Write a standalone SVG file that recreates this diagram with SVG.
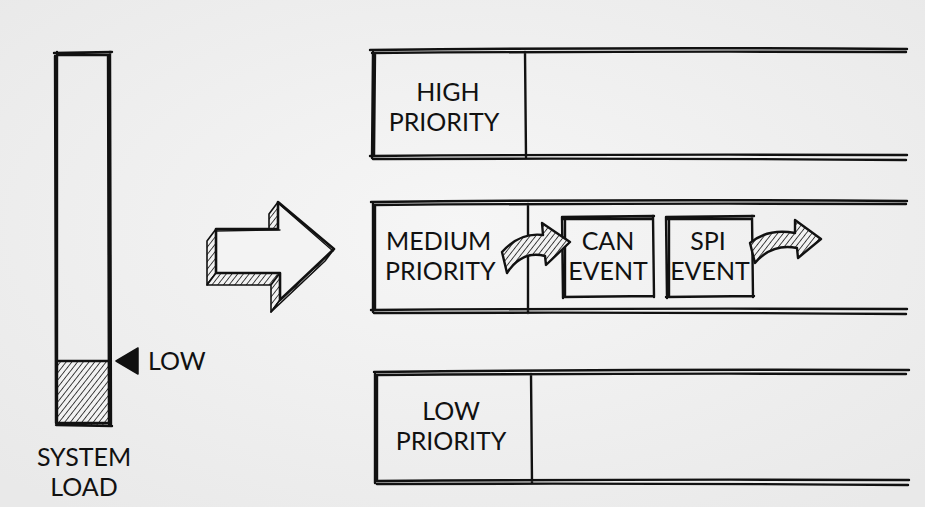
<svg xmlns="http://www.w3.org/2000/svg" width="925" height="507" viewBox="0 0 925 507">
<style>
.ink{fill:none;stroke:#111;stroke-width:2.4;stroke-linecap:round;stroke-linejoin:round}
.thin{fill:none;stroke:#111;stroke-width:1.3;stroke-linecap:round}
.lbl{font-family:Lato,"Noto Sans",sans-serif;font-size:25px;fill:#111;text-anchor:middle}
.lbl-l{font-family:Lato,"Noto Sans",sans-serif;font-size:25px;fill:#111}
.hatch{fill:url(#hatch);stroke:#111;stroke-width:2.4;stroke-linejoin:round}
.face{fill:url(#hatch);stroke:#111;stroke-width:1.6;stroke-linejoin:round}
.paper{fill:#f3f3f3}
</style>
<defs>
<radialGradient id="bg" cx="50%" cy="45%" r="70%">
<stop offset="0" stop-color="#f6f6f6"/>
<stop offset="1" stop-color="#e9e9e9"/>
</radialGradient>
<pattern id="hatch" patternUnits="userSpaceOnUse" width="4.5" height="5" patternTransform="rotate(38)">
<rect width="4.5" height="5" fill="#f2f2f2"/>
<line x1="0" y1="0" x2="0" y2="5" stroke="#1a1a1a" stroke-width="1.6"/>
</pattern>
</defs>
<rect width="925" height="507" fill="url(#bg)"/>

<g id="load-bar">
<rect x="57" y="361" width="53" height="64" fill="url(#hatch)"/>
<path class="ink" d="M57,52 L57,425 M55,56 L56,423 M110,52 L111,426 M108,56 L109,424 M54,53 L112,52 M58,55 L110,55 M56,425 L112,426 M58,423 L109,423 M56,361 L110,361"/>
<text class="lbl" x="84" y="466">SYSTEM</text>
<text class="lbl" x="84" y="496">LOAD</text>
</g>

<g id="low-marker">
<polygon points="116,361 138,348 138,374" fill="#111" stroke="#111" stroke-width="1.5" stroke-linejoin="round"/>
<text class="lbl-l" x="148" y="370" font-size="23">LOW</text>
</g>

<g id="big-arrow">
<polygon class="face" points="216,229 216,273 207,285 207,241"/>
<polygon class="face" points="216,273 280,273 271,285 207,285"/>
<polygon class="face" points="280,273 280,300 271,312 271,285"/>
<polygon class="face" points="280,300 334,249 325,261 271,312"/>
<polygon class="face" points="278,229 278,202 269,214 269,241"/>
<polygon class="paper" points="216,229 278,229 278,202 334,249 280,300 280,273 216,273" stroke="#111" stroke-width="2.6" stroke-linejoin="round"/>
<path class="thin" d="M215,231 L280,230 M279,204 L333,251"/>
</g>

<g id="high-row">
<path class="ink" d="M370,50 Q640,47 907,49 M372,53 Q640,51 906,52 M370,156 Q640,154 907,155 M373,159 Q640,158 906,160 M373,52 L372,158 M375,54 L374,156 M525,52 L526,157"/>
<text class="lbl" x="448" y="101">HIGH</text>
<text class="lbl" x="444" y="131">PRIORITY</text>
</g>

<g id="medium-row">
<path class="ink" d="M371,202 Q640,199 907,201 M373,205 Q640,203 906,204 M371,310 Q640,308 907,309 M374,313 Q640,312 906,314 M373,204 L373,312 M375,206 L375,310 M528,204 L528,313"/>
<text class="lbl-l" x="386" y="250">MEDIUM</text>
<text class="lbl-l" x="385" y="280">PRIORITY</text>
</g>

<g id="can-event">
<path class="ink" d="M562,217 L654,216 M564,219 L652,219 M563,297 L654,296 M562,217 L563,298 M565,219 L565,296 M653,216 L654,297"/>
<text class="lbl" x="608" y="250">CAN</text>
<text class="lbl" x="608" y="280">EVENT</text>
</g>

<g id="spi-event">
<path class="ink" d="M666,217 L754,216 M668,219 L752,219 M666,297 L754,296 M666,217 L667,298 M669,219 L669,296 M752,216 L753,297"/>
<text class="lbl" x="708" y="250">SPI</text>
<text class="lbl" x="710" y="280">EVENT</text>
</g>

<g id="low-row">
<path class="ink" d="M374,372 Q640,369 909,370 M376,375 Q640,373 906,374 M375,481 Q640,479 909,480 M377,484 Q640,483 908,485 M375,374 L375,483 M377,376 L377,481 M531,374 L532,483"/>
<text class="lbl" x="451" y="420">LOW</text>
<text class="lbl" x="451" y="450">PRIORITY</text>
</g>

<g id="connectors">
<path class="hatch" d="M502,252 Q520,232 543,235 L542,223 L570,242 L546,265 L545,256 Q522,250 507,273 Z"/>
<path class="hatch" d="M750,243 Q768,228 795,233 L795,220 L821,239 L798,258 L797,248 Q772,243 755,263 Z"/>
</g>
</svg>
